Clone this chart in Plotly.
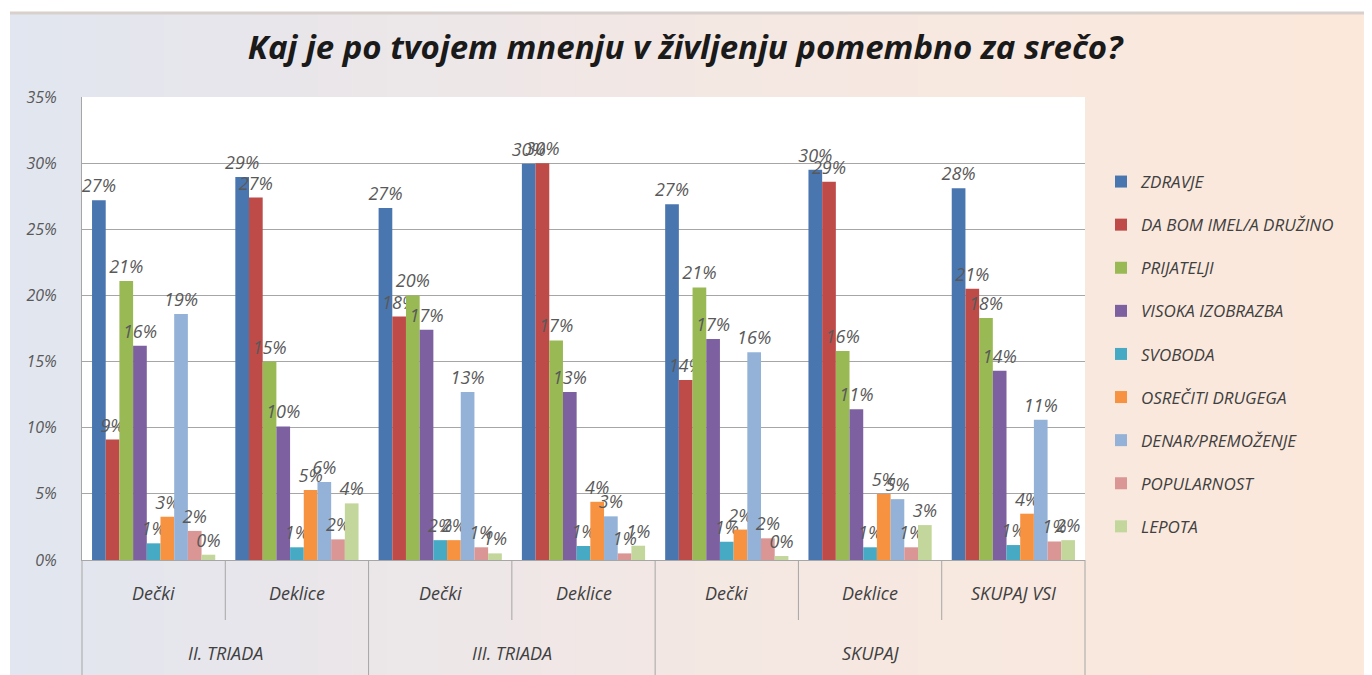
import plotly.graph_objects as go

# ---- data ----
outer = ["II. TRIADA", "II. TRIADA", "III. TRIADA", "III. TRIADA", "SKUPAJ", "SKUPAJ", "SKUPAJ"]
inner = ["Dečki", "Deklice", "Dečki", "Deklice", "Dečki", "Deklice", "SKUPAJ VSI"]

series_names = ["ZDRAVJE", "DA BOM IMEL/A DRUŽINO", "PRIJATELJI", "VISOKA IZOBRAZBA",
                "SVOBODA", "OSREČITI DRUGEGA", "DENAR/PREMOŽENJE", "POPULARNOST", "LEPOTA"]

zdravje   = [27.2, 28.95, 26.6, 29.96, 26.9, 29.5, 28.1]
druzina   = [9.1, 27.4, 18.4, 30.0, 13.6, 28.6, 20.5]
prijatelji = [21.1, 15.0, 20.0, 16.6, 20.6, 15.8, 18.3]
izobrazba = [16.2, 10.1, 17.4, 12.7, 16.7, 11.4, 14.3]
svoboda   = [1.26, 0.96, 1.5, 1.06, 1.38, 0.96, 1.13]
osreciti  = [3.27, 5.29, 1.5, 4.4, 2.3, 4.98, 3.5]
denar     = [18.6, 5.9, 12.7, 3.3, 15.7, 4.6, 10.6]
popularnost = [2.2, 1.56, 0.96, 0.5, 1.64, 0.96, 1.4]
lepota    = [0.4, 4.28, 0.5, 1.08, 0.3, 2.64, 1.5]

values = [zdravje, druzina, prijatelji, izobrazba, svoboda, osreciti, denar, popularnost, lepota]
colors = ["#4A76B0", "#BE4B48", "#98B954", "#7D60A0", "#46AAC5", "#F69240", "#94B2D8", "#DA9694", "#C3D69B"]

y_ticks = [0, 0.05, 0.10, 0.15, 0.20, 0.25, 0.30, 0.35]

# ---- geometry (page pixels; the figure div sits at an 8px body offset) ----
OFF = 8
W, H = 1372, 675
PL, PR, PT, PB = 82, 1085, 97, 560
pw, ph = PR - PL, PB - PT

def px_x(p):
    return (p - PL) / pw

def px_y(p):
    return (PB - p) / ph

fig = go.Figure()

for name, vals, col in zip(series_names, values, colors):
    fr = [v / 100 for v in vals]
    fig.add_trace(go.Bar(
        name=name,
        x=[outer, inner],
        y=fr,
        marker=dict(color=col, line=dict(width=0)),
        text=[f"{round(v + 1e-9):.0f}%" for v in vals],
        textposition="outside",
        constraintext="none",
        cliponaxis=False,
        textfont=dict(family="Open Sans", size=18, color="#595959", style="italic"),
        legendgroup=name,
        hoverinfo="skip",
    ))

# background gradient (horizontal) across chart area
shapes = []
N = 80
x0p, x1p = 10, W + OFF
y0p, y1p = 12, H + OFF
c_left = (226, 230, 240)
c_mid = (244, 232, 228)
c_right = (253, 233, 219)
for i in range(N):
    t = i / (N - 1)
    if t < 0.5:
        u = t / 0.5
        c = tuple(int(c_left[k] + (c_mid[k] - c_left[k]) * u) for k in range(3))
    else:
        u = (t - 0.5) / 0.5
        c = tuple(int(c_mid[k] + (c_right[k] - c_mid[k]) * u) for k in range(3))
    xa = x0p + (x1p - x0p) * i / N
    xb = x0p + (x1p - x0p) * (i + 1) / N + 1
    shapes.append(dict(type="rect", xref="paper", yref="paper",
                       x0=px_x(xa), x1=px_x(xb), y0=px_y(y1p), y1=px_y(y0p),
                       fillcolor=f"rgb{c}", line=dict(width=0), layer="below"))
# top border line
shapes.append(dict(type="line", xref="paper", yref="paper",
                   x0=px_x(10), x1=px_x(W + OFF), y0=px_y(13), y1=px_y(13),
                   line=dict(color="#d8d0cc", width=3), layer="below"))
# white plot area
shapes.append(dict(type="rect", xref="paper", yref="paper", x0=0, x1=1, y0=0, y1=1,
                   fillcolor="white", line=dict(width=0), layer="below"))

# category dividers and labels below the axis
n = len(inner)
for k in range(n + 1):
    if k == 0 or k == n or outer[k - 1] != outer[k]:
        y_end = px_y(H + OFF)
    else:
        y_end = px_y(620)
    shapes.append(dict(type="line", xref="paper", yref="paper",
                       x0=k / n, x1=k / n, y0=0, y1=y_end,
                       line=dict(color="#A6A6A6", width=1)))

annotations = []
lab_font = dict(family="Open Sans", size=18, color="#404040", style="italic")
for i, lab in enumerate(inner):
    annotations.append(dict(text=lab, xref="paper", yref="paper",
                            x=(i + 0.5) / n, y=px_y(593), xanchor="center", yanchor="middle",
                            showarrow=False, font=lab_font))
start = 0
for k in range(1, n + 1):
    if k == n or outer[k] != outer[start]:
        annotations.append(dict(text=outer[start], xref="paper", yref="paper",
                                x=(start + k) / 2 / n, y=px_y(653), xanchor="center", yanchor="middle",
                                showarrow=False, font=lab_font))
        start = k

fig.update_layout(
    width=W, height=H,
    margin=dict(l=PL - OFF, r=W - (PR - OFF), t=PT - OFF, b=H - (PB - OFF)),
    paper_bgcolor="white",
    plot_bgcolor="rgba(0,0,0,0)",
    shapes=shapes,
    annotations=annotations,
    barmode="group",
    bargap=0.14,
    bargroupgap=0,
    title=dict(text="Kaj je po tvojem mnenju v življenju pomembno za srečo?",
               x=(685 - OFF) / W, xref="container", xanchor="center",
               y=1 - (47 - OFF) / H, yanchor="middle",
               font=dict(family="Open Sans", size=33, color="#1a1a1a", weight="bold", style="italic")),
    legend=dict(x=px_x(1101), xanchor="left", y=px_y(164), yanchor="top",
                font=dict(family="Open Sans", size=17, color="#404040", style="italic"),
                tracegroupgap=18, bgcolor="rgba(0,0,0,0)", traceorder="grouped"),
    showlegend=True,
)

fig.update_yaxes(range=[0, 0.35], tickvals=y_ticks, tickformat=".0%",
                 showgrid=True, gridcolor="#A6A6A6", gridwidth=1,
                 showline=True, linecolor="#A6A6A6", linewidth=1,
                 ticks="", ticklabelstandoff=21, zeroline=False,
                 tickfont=dict(family="Open Sans", size=16, color="#595959", style="italic"))
fig.update_xaxes(type="multicategory", showticklabels=False,
                 showline=True, linecolor="#A6A6A6", linewidth=1,
                 showdividers=False, ticks="", showgrid=False)

fig.write_html("out.html")
